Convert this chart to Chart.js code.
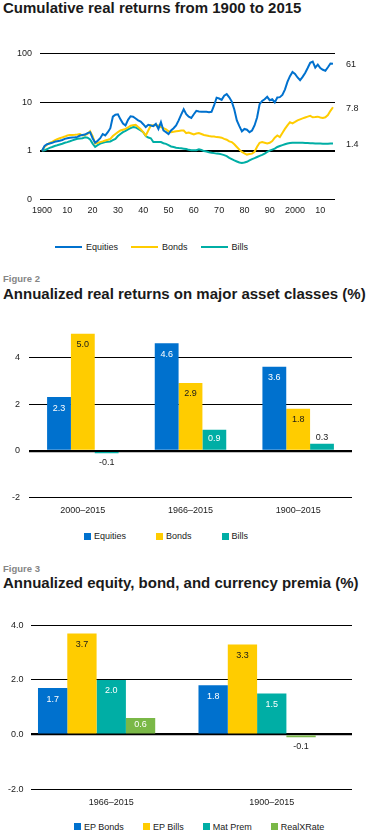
<!DOCTYPE html>
<html>
<head>
<meta charset="utf-8">
<title>Retornos reais</title>
<script src="https://cdn.jsdelivr.net/npm/chart.js@4.4.1/dist/chart.umd.min.js"></script>
<style>
    body {
        margin: 0;
        width: 376px;
        height: 837px;
        background: #fff;
        position: relative;
        overflow: hidden;
        font-family: "Liberation Sans", Arial, Helvetica, sans-serif;
        color: #1a1a1a;
    }
    .titulo { position: absolute; left: 3px; font-size: 15px; font-weight: bold; line-height: 15px; white-space: nowrap; }
    .figura { position: absolute; left: 3px; font-size: 9.5px; font-weight: bold; line-height: 10px; color: #858585; }
    canvas { position: absolute; left: 0; }
    .legenda { position: absolute; display: flex; align-items: center; height: 12px; font-size: 9px; line-height: 12px; white-space: nowrap; }
    .legenda .item { display: flex; align-items: center; }
    .legenda .linha { display: inline-block; width: 27px; height: 2.5px; margin-right: 4px; }
    .legenda .caixa { display: inline-block; width: 7px; height: 7px; margin-right: 3px; }
</style>
</head>
<body>
<div class="titulo" style="top:0px">Cumulative real returns from 1900 to 2015</div>
<canvas id="graficoA" width="376" height="180" style="top:40px"></canvas>
<div class="legenda" id="legendaA" style="left:55px; top:241px"></div>

<div class="figura" style="top:274px">Figure 2</div>
<div class="titulo" style="top:285.6px">Annualized real returns on major asset classes (%)</div>
<canvas id="graficoB" width="376" height="208" style="top:310px"></canvas>
<div class="legenda" id="legendaB" style="left:84px; top:530px"></div>

<div class="figura" style="top:563.5px">Figure 3</div>
<div class="titulo" style="top:574.6px">Annualized equity, bond, and currency premia (%)</div>
<canvas id="graficoC" width="376" height="210" style="top:600px"></canvas>
<div class="legenda" id="legendaC" style="left:74px; top:820.7px"></div>

<script>
Chart.defaults.font.family = '"Liberation Sans", Arial, Helvetica, sans-serif'
Chart.defaults.font.size = 9
Chart.defaults.color = '#1a1a1a'
Chart.defaults.animation = false

// Figura 1 (1900 a 2015)
var anos = []
for (var ano = 1900; ano <= 2015; ano++) {
    anos.push(ano)
}

var equities = [
    1.00, 1.25, 1.36, 1.40, 1.45, 1.52, 1.56, 1.60, 1.66, 1.75,
    1.80, 1.84, 1.86, 1.88, 1.92, 2.05, 2.10, 2.15, 2.30, 2.40,
    1.80, 1.45, 1.60, 1.80, 2.20, 2.06, 2.40, 2.90, 5.00, 5.50,
    5.60, 4.40, 3.60, 3.30, 4.30, 5.10, 5.00, 4.60, 4.20, 3.95,
    3.50, 3.05, 3.40, 3.30, 3.20, 3.55, 2.80, 3.85, 2.60, 2.40,
    2.20, 2.60, 2.90, 3.30, 4.20, 5.50, 7.10, 5.65, 5.00, 4.70,
    5.60, 6.60, 6.40, 6.30, 6.30, 6.30, 6.20, 6.30, 8.50, 12.3,
    11.8, 11.1, 13.5, 14.6, 12.5, 10.2, 7.00, 4.20, 3.20, 2.50,
    2.80, 2.70, 2.40, 2.60, 3.30, 4.80, 9.00, 10.5, 11.4, 12.8,
    10.9, 11.4, 9.80, 12.4, 12.6, 14.0, 18.0, 26.0, 34.0, 41.7,
    38.0, 32.0, 28.0, 33.0, 39.6, 50.0, 64.0, 68.0, 51.0, 59.0,
    50.0, 46.0, 44.0, 52.0, 62.0, 61
]

var bonds = [
    1.00, 1.20, 1.32, 1.45, 1.52, 1.62, 1.72, 1.80, 1.88, 1.95,
    2.05, 2.10, 2.10, 2.12, 2.15, 2.20, 2.05, 2.10, 2.20, 2.50,
    2.00, 1.40, 1.45, 1.50, 1.55, 1.62, 1.68, 1.75, 2.00, 2.20,
    2.40, 2.60, 2.70, 2.80, 3.00, 3.25, 3.35, 3.40, 3.05, 2.75,
    2.40, 2.05, 2.60, 3.30, 3.35, 3.35, 3.30, 3.05, 2.90, 2.75,
    2.50, 2.40, 2.45, 2.50, 2.55, 2.60, 2.60, 2.30, 2.35, 2.25,
    2.15, 2.25, 2.30, 2.20, 2.10, 2.05, 2.00, 1.96, 1.95, 1.90,
    1.88, 1.85, 1.75, 1.68, 1.55, 1.50, 1.35, 1.19, 1.05, 0.94,
    0.88, 0.83, 0.85, 0.87, 0.95, 1.20, 1.45, 1.50, 1.45, 1.40,
    1.45, 1.57, 1.85, 2.05, 1.90, 2.30, 2.80, 3.30, 3.85, 3.65,
    3.90, 4.20, 4.40, 4.60, 4.80, 5.00, 5.20, 4.85, 4.90, 5.00,
    4.80, 4.70, 4.85, 5.40, 6.60, 7.8
]

var bills = [
    1.00, 1.02, 1.08, 1.14, 1.19, 1.25, 1.29, 1.34, 1.39, 1.45,
    1.50, 1.56, 1.63, 1.70, 1.76, 1.78, 1.80, 1.88, 1.85, 1.70,
    1.40, 1.20, 1.30, 1.40, 1.45, 1.50, 1.53, 1.55, 1.65, 1.75,
    2.00, 2.20, 2.40, 2.55, 2.75, 2.90, 3.05, 3.00, 2.80, 2.60,
    2.40, 2.00, 1.86, 1.80, 1.50, 1.50, 1.50, 1.50, 1.42, 1.38,
    1.30, 1.22, 1.19, 1.15, 1.13, 1.12, 1.10, 1.08, 1.04, 1.02,
    1.02, 1.02, 1.07, 1.03, 0.98, 0.96, 0.93, 0.91, 0.89, 0.87,
    0.86, 0.84, 0.81, 0.77, 0.71, 0.67, 0.63, 0.60, 0.57, 0.56,
    0.57, 0.59, 0.63, 0.67, 0.70, 0.74, 0.78, 0.82, 0.87, 0.94,
    1.00, 1.05, 1.10, 1.19, 1.25, 1.30, 1.35, 1.40, 1.44, 1.45,
    1.46, 1.46, 1.45, 1.45, 1.44, 1.43, 1.42, 1.42, 1.41, 1.40,
    1.40, 1.39, 1.39, 1.39, 1.40, 1.4
]

var anosTicks = [1900, 1910, 1920, 1930, 1940, 1950, 1960, 1970, 1980, 1990, 2000, 2010]
var anosRotulos = ['1900', '10', '20', '30', '40', '50', '60', '70', '80', '90', '2000', '10']
var escalaTicks = [0.1, 1, 10, 100]
var escalaRotulos = ['0', '1', '10', '100']
var nomesA = ['Equities', 'Bonds', 'Bills']

// Figura 2
var periodosB = ['2000–2015', '1966–2015', '1900–2015']
var equitiesB = [2.3, 4.6, 3.6]
var bondsB = [5.0, 2.9, 1.8]
var billsB = [-0.1, 0.9, 0.3]

// Figura 3 (o original reserva um quinto espaco vazio em cada grupo)
var periodosC = ['1966–2015', '1900–2015']
var epBonds = [1.7, 1.8]
var epBills = [3.7, 3.3]
var matPrem = [2.0, 1.5]
var realXRate = [0.6, -0.1]
var vazio = [null, null]
var nomesC = ['EP Bonds', 'EP Bills', 'Mat Prem', 'RealXRate']

var azul = '#0071ce'
var amarelo = '#ffcc00'
var turquesa = '#00aea5'
var verde = '#7ab847'

function pontos(valores) {
    return anos.map(function (a, i) { return { x: a, y: valores[i] } })
}

// rotulo do ultimo valor, a direita da linha
const rotulosFinais = {
    id: 'rotulosFinais',
    afterDatasetsDraw(chart) {
        const ctx = chart.ctx
        ctx.save()
        ctx.font = '9px "Liberation Sans", Arial, sans-serif'
        ctx.fillStyle = '#1a1a1a'
        ctx.textBaseline = 'middle'
        chart.data.datasets.forEach(function (ds, i) {
            const pts = chart.getDatasetMeta(i).data
            const ultimo = pts[pts.length - 1]
            ctx.fillText(String(ds.data[ds.data.length - 1].y), ultimo.x + 13, ultimo.y + 1)
        })
        ctx.restore()
    }
}

// valores dentro/fora das barras
const rotulosBarras = {
    id: 'rotulosBarras',
    afterDatasetsDraw(chart) {
        const ctx = chart.ctx
        ctx.save()
        ctx.font = '9px "Liberation Sans", Arial, sans-serif'
        ctx.textAlign = 'center'
        ctx.textBaseline = 'middle'
        chart.data.datasets.forEach(function (ds, i) {
            chart.getDatasetMeta(i).data.forEach(function (barra, j) {
                const v = ds.data[j]
                if (v === null || v === undefined) return
                const h = Math.abs(barra.base - barra.y)
                var y, cor
                if (v < 0) {
                    y = barra.y + 9
                    cor = '#1a1a1a'
                } else if (h < 14) {
                    y = barra.y - 6
                    cor = '#1a1a1a'
                } else {
                    y = barra.y + Math.min(11, h * 0.42)
                    cor = ds.corRotulo
                }
                ctx.fillStyle = cor
                ctx.fillText(v.toFixed(1), barra.x, y)
            })
        })
        ctx.restore()
    }
}

function montarLegenda(id, nomes, cores, tipo, espaco) {
    const el = document.getElementById(id)
    nomes.forEach(function (nome, i) {
        const margem = i < nomes.length - 1 ? espaco : 0
        el.innerHTML += `<span class="item" style="margin-right:${margem}px"><span class="${tipo}" style="background:${cores[i]}"></span>${nome}</span>`
    })
}

function plotarGraficoA() {
    const configA = {
        type: 'line',
        data: {
            datasets: [
                { label: nomesA[0], data: pontos(equities), borderColor: azul, backgroundColor: azul },
                { label: nomesA[1], data: pontos(bonds), borderColor: amarelo, backgroundColor: amarelo },
                { label: nomesA[2], data: pontos(bills), borderColor: turquesa, backgroundColor: turquesa }
            ]
        },
        options: {
            responsive: false,
            layout: { padding: { top: 10.7, right: 41, left: 0, bottom: 0 } },
            elements: {
                point: { radius: 0 },
                line: { borderWidth: 2, tension: 0 }
            },
            plugins: { legend: { display: false }, tooltip: { enabled: false } },
            scales: {
                x: {
                    type: 'linear',
                    min: 1899.2,
                    max: 2015.8,
                    grid: { display: false, drawTicks: false },
                    border: { display: false },
                    afterBuildTicks: function (scale) {
                        scale.ticks = anosTicks.map(function (v) { return { value: v } })
                    },
                    afterFit: function (scale) { scale.height = 20.7 },
                    ticks: {
                        autoSkip: false,
                        maxRotation: 0,
                        padding: 6,
                        callback: function (v, i) { return anosRotulos[i] }
                    }
                },
                y: {
                    type: 'logarithmic',
                    min: 0.1,
                    max: 100,
                    border: { display: false },
                    grid: {
                        color: '#000',
                        drawTicks: false,
                        lineWidth: function (c) { return c.tick && c.tick.value === 1 ? 2 : 1 }
                    },
                    afterBuildTicks: function (scale) {
                        scale.ticks = escalaTicks.map(function (v) { return { value: v } })
                    },
                    afterFit: function (scale) { scale.width = 40 },
                    ticks: {
                        padding: 8,
                        callback: function (v, i) { return escalaRotulos[i] }
                    }
                }
            }
        },
        plugins: [rotulosFinais]
    }

    const graficoA = new Chart(document.getElementById('graficoA'), configA)
    montarLegenda('legendaA', nomesA, [azul, amarelo, turquesa], 'linha', 13)
}

function eixosBarras(minimo, maximo, largura, alturaX, casas, padY, padX) {
    return {
        x: {
            grid: { display: false, drawTicks: false },
            border: { display: false },
            afterFit: function (scale) { scale.height = alturaX },
            ticks: { padding: padX, maxRotation: 0 }
        },
        y: {
            min: minimo,
            max: maximo,
            border: { display: false },
            grid: {
                color: '#000',
                drawTicks: false,
                lineWidth: function (c) { return c.tick && c.tick.value === 0 ? 2.2 : 1 }
            },
            afterFit: function (scale) { scale.width = largura },
            ticks: {
                stepSize: 2,
                includeBounds: false,
                padding: padY,
                callback: function (v) { return v.toFixed(casas) }
            }
        }
    }
}

function plotarGraficoB() {
    const configB = {
        type: 'bar',
        data: {
            labels: periodosB,
            datasets: [
                { label: nomesA[0], data: equitiesB, backgroundColor: azul, corRotulo: '#fff' },
                { label: nomesA[1], data: bondsB, backgroundColor: amarelo, corRotulo: '#1a1a1a' },
                { label: nomesA[2], data: billsB, backgroundColor: turquesa, corRotulo: '#fff' }
            ]
        },
        options: {
            responsive: false,
            layout: { padding: { top: 14.5, right: 24, left: 0, bottom: 0 } },
            datasets: { bar: { categoryPercentage: 0.664, barPercentage: 1.0 } },
            plugins: { legend: { display: false }, tooltip: { enabled: false } },
            scales: eixosBarras(-2, 5.4, 29, 20.3, 0, 9, 7)
        },
        plugins: [rotulosBarras]
    }

    const graficoB = new Chart(document.getElementById('graficoB'), configB)
    montarLegenda('legendaB', nomesA, [azul, amarelo, turquesa], 'caixa', 30)
}

function plotarGraficoC() {
    const configC = {
        type: 'bar',
        data: {
            labels: periodosC,
            datasets: [
                { label: nomesC[0], data: epBonds, backgroundColor: azul, corRotulo: '#fff' },
                { label: nomesC[1], data: epBills, backgroundColor: amarelo, corRotulo: '#1a1a1a' },
                { label: nomesC[2], data: matPrem, backgroundColor: turquesa, corRotulo: '#fff' },
                { label: nomesC[3], data: realXRate, backgroundColor: verde, corRotulo: '#fff' },
                { label: '', data: vazio, backgroundColor: 'rgba(0,0,0,0)' }
            ]
        },
        options: {
            responsive: false,
            layout: { padding: { top: 25.3, right: 24, left: 0, bottom: 0 } },
            datasets: { bar: { categoryPercentage: 0.913, barPercentage: 1.0 } },
            plugins: { legend: { display: false }, tooltip: { enabled: false } },
            scales: eixosBarras(-2, 4, 31, 20.9, 1, 7.5, 8)
        },
        plugins: [rotulosBarras]
    }

    const graficoC = new Chart(document.getElementById('graficoC'), configC)
    montarLegenda('legendaC', nomesC, [azul, amarelo, turquesa, verde], 'caixa', 19)
}

plotarGraficoA()
plotarGraficoB()
plotarGraficoC()
</script>
</body>
</html>
